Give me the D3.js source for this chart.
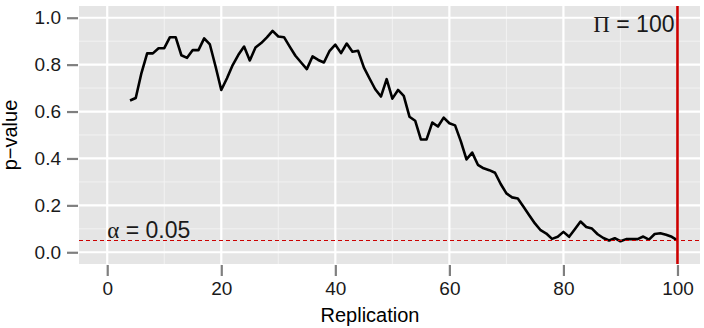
<!DOCTYPE html>
<html>
<head>
<meta charset="utf-8">
<script src="https://cdn.jsdelivr.net/npm/d3@7"></script>
<style>
  body { margin: 0; background: #fff; }
  text { font-family: "Liberation Sans", Arial, sans-serif; }
</style>
</head>
<body>
<script>
const w = 704;
const h = 328;

// replication number and p-value
const replication = [4,5,6,7,8,9,10,11,12,13,14,15,16,17,18,19,20,21,22,23,24,25,26,27,28,29,30,
  31,32,33,34,35,36,37,38,39,40,41,42,43,44,45,46,47,48,49,50,51,52,53,54,55,56,57,58,59,60,
  61,62,63,64,65,66,67,68,69,70,71,72,73,74,75,76,77,78,79,80,81,82,83,84,85,86,87,88,89,90,
  91,92,93,94,95,96,97,98,99,100];
const pValue = [0.647,0.658,0.764,0.848,0.848,0.870,0.870,0.917,0.917,0.840,0.829,0.862,0.862,0.912,0.886,0.792,0.692,
  0.742,0.798,0.842,0.877,0.818,0.873,0.892,0.916,0.944,0.920,0.917,0.877,0.838,0.809,0.781,0.835,0.820,0.809,0.859,0.885,
  0.849,0.890,0.855,0.859,0.788,0.741,0.695,0.664,0.738,0.655,0.692,0.667,0.578,0.561,0.481,0.481,0.553,0.536,0.574,0.550,
  0.541,0.474,0.396,0.425,0.373,0.358,0.350,0.339,0.291,0.251,0.234,0.229,0.194,0.158,0.123,0.094,0.080,0.057,0.066,0.087,
  0.066,0.098,0.131,0.108,0.101,0.077,0.061,0.050,0.060,0.047,0.056,0.056,0.056,0.067,0.054,0.078,0.081,0.075,0.066,0.051];

const xTicks = [0, 20, 40, 60, 80, 100];
const xMinor = [10, 30, 50, 70, 90];
const yTicks = [0, 0.2, 0.4, 0.6, 0.8, 1.0];
const yMinor = [0.1, 0.3, 0.5, 0.7, 0.9];
const alpha = 0.05;
const nMax = 100;

const panel = {left: 79, right: 700, top: 6, bottom: 264};

const xScale = d3.scaleLinear()
                 .domain([-4.95, 103.95])
                 .range([panel.left, panel.right]);

const yScale = d3.scaleLinear()
                 .domain([-0.05, 1.05])
                 .range([panel.bottom, panel.top]);

const svg = d3.select("body")
              .append("svg")
              .attr("width", w)
              .attr("height", h);

// grey panel
svg.append("rect")
   .attr("x", panel.left)
   .attr("y", panel.top)
   .attr("width", panel.right - panel.left)
   .attr("height", panel.bottom - panel.top)
   .attr("fill", "#E5E5E5");

// minor grid
svg.selectAll(".minor-x").data(xMinor).enter().append("line")
   .attr("x1", d => xScale(d)).attr("x2", d => xScale(d))
   .attr("y1", panel.top).attr("y2", panel.bottom)
   .attr("stroke", "#F2F2F2").attr("stroke-width", 1);
svg.selectAll(".minor-y").data(yMinor).enter().append("line")
   .attr("y1", d => yScale(d)).attr("y2", d => yScale(d))
   .attr("x1", panel.left).attr("x2", panel.right)
   .attr("stroke", "#F2F2F2").attr("stroke-width", 1);

// major grid
svg.selectAll(".major-x").data(xTicks).enter().append("line")
   .attr("x1", d => xScale(d)).attr("x2", d => xScale(d))
   .attr("y1", panel.top).attr("y2", panel.bottom)
   .attr("stroke", "#fff").attr("stroke-width", 2.2);
svg.selectAll(".major-y").data(yTicks).enter().append("line")
   .attr("y1", d => yScale(d)).attr("y2", d => yScale(d))
   .attr("x1", panel.left).attr("x2", panel.right)
   .attr("stroke", "#fff").attr("stroke-width", 2.2);

// p-value line
const line = d3.line()
               .x((d, i) => xScale(replication[i]))
               .y(d => yScale(d));

svg.append("path")
   .datum(pValue)
   .attr("d", line)
   .attr("fill", "none")
   .attr("stroke", "#000")
   .attr("stroke-width", 2.6)
   .attr("stroke-linejoin", "round");

// alpha line
svg.append("line")
   .attr("x1", panel.left).attr("x2", panel.right)
   .attr("y1", yScale(alpha)).attr("y2", yScale(alpha))
   .attr("stroke", "#CC0000")
   .attr("stroke-width", 1.1)
   .attr("stroke-dasharray", "4,3");

// N max line
svg.append("line")
   .attr("x1", xScale(nMax)).attr("x2", xScale(nMax))
   .attr("y1", panel.top).attr("y2", panel.bottom)
   .attr("stroke", "#CC0000")
   .attr("stroke-width", 2.6);

// annotations
const aLab = svg.append("text")
   .attr("x", xScale(0))
   .attr("y", yScale(alpha) - 2.5)
   .attr("font-size", 23)
   .attr("fill", "#1a1a1a")
   .attr("xml:space", "preserve");
aLab.append("tspan").attr("font-family", "Liberation Serif, DejaVu Serif, serif").text("α");
aLab.append("tspan").text(" = 0.05");

const pLab = svg.append("text")
   .attr("x", xScale(nMax) - 3)
   .attr("y", 32)
   .attr("text-anchor", "end")
   .attr("font-size", 23)
   .attr("fill", "#1a1a1a")
   .attr("xml:space", "preserve");
pLab.append("tspan").attr("font-family", "Liberation Serif, DejaVu Serif, serif").text("Π");
pLab.append("tspan").text(" = 100");

// axes
const xAxis = d3.axisBottom(xScale).tickValues(xTicks).tickSize(11).tickPadding(6).tickFormat(d3.format("d"));
const yAxis = d3.axisLeft(yScale).tickValues(yTicks).tickSize(11).tickPadding(6).tickFormat(d3.format(".1f"));

const gx = svg.append("g")
   .attr("transform", "translate(0," + (panel.bottom + 1) + ")")
   .call(xAxis);
const gy = svg.append("g")
   .attr("transform", "translate(" + (panel.left - 1) + ",0)")
   .call(yAxis);

gx.select(".domain").remove();
gy.select(".domain").remove();
gx.selectAll(".tick line").attr("stroke", "#7F7F7F").attr("stroke-width", 2.2);
gy.selectAll(".tick line").attr("stroke", "#7F7F7F").attr("stroke-width", 2.2);
gx.selectAll(".tick text").attr("font-size", 19).attr("fill", "#1a1a1a")
  .attr("font-family", "Liberation Sans, Arial, sans-serif");
gy.selectAll(".tick text").attr("font-size", 19).attr("fill", "#1a1a1a")
  .attr("font-family", "Liberation Sans, Arial, sans-serif");

// titles
svg.append("text")
   .attr("x", 370)
   .attr("y", 322)
   .attr("text-anchor", "middle")
   .attr("font-size", 20)
   .text("Replication");

svg.append("text")
   .attr("transform", "translate(17," + (panel.top + panel.bottom) / 2 + ") rotate(-90)")
   .attr("text-anchor", "middle")
   .attr("font-size", 20)
   .text("p\u2212value");
</script>
</body>
</html>
